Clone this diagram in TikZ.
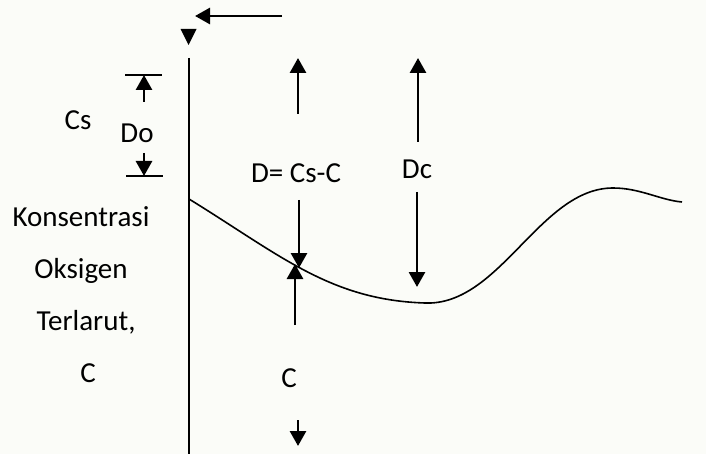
\documentclass[tikz,border=0pt]{standalone}
\usepackage{fontspec}
\setmainfont{Carlito}
\usetikzlibrary{arrows.meta}
\definecolor{bgc}{RGB}{251,252,248}
\tikzset{
  lbl/.style={font=\fontsize{29}{33}\selectfont, anchor=base, inner sep=0pt},
  arr/.style={line width=2.8pt, -{Triangle[length=15pt,width=16pt]}},
  tick/.style={line width=1.6pt},
  axis/.style={line width=1.6pt},
  curve/.style={line width=1.6pt}
}
\begin{document}
\begin{tikzpicture}[x=1pt,y=-1pt]
\fill[bgc] (0,0) rectangle (706,454);
\useasboundingbox (0,0) rectangle (706,454);
% axis
\coordinate (axtop) at (189,58);
\coordinate (axbot) at (189,454);
\draw[axis] (axtop) -- (axbot);
% top arrow and lone triangle
\coordinate (ha1) at (282,16);
\coordinate (ha2) at (195,16);
\draw[arr] (ha1) -- (ha2);
\fill (180.5,29) -- (196.5,29) -- (188.5,45) -- cycle;
% Cs / Do
\coordinate (t1a) at (125,75); \coordinate (t1b) at (162,75);
\coordinate (t2a) at (126,176); \coordinate (t2b) at (163,176);
\draw[tick] (t1a) -- (t1b);
\draw[tick] (t2a) -- (t2b);
\coordinate (do1) at (144,102); \coordinate (do1t) at (144,75);
\coordinate (do2) at (144,153); \coordinate (do2t) at (144,176);
\draw[arr] (do1) -- (do1t);
\draw[arr] (do2) -- (do2t);
\node[lbl] (cs) at (78,130) {Cs};
\node[lbl] (do) at (137,143) {Do};
% left labels
\node[lbl] (k1) at (81,227) {Konsentrasi};
\node[lbl] (k2) at (81,278) {Oksigen};
\node[lbl] (k3) at (86,330) {Terlarut,};
\node[lbl] (k4) at (88,382) {C};
% D = Cs - C
\coordinate (d1) at (298,114); \coordinate (d1t) at (298,58);
\draw[arr] (d1) -- (d1t);
\node[lbl] (dd) at (296,183) {D= Cs-C};
\coordinate (d2) at (299,200); \coordinate (d2t) at (299,268);
\draw[arr] (d2) -- (d2t);
\coordinate (c1) at (295,325); \coordinate (c1t) at (295,264);
\draw[arr] (c1) -- (c1t);
\node[lbl] (cc) at (289,387) {C};
\coordinate (c2) at (298,420); \coordinate (c2t) at (298,446);
\draw[arr] (c2) -- (c2t);
% Dc
\coordinate (dc1) at (418,142); \coordinate (dc1t) at (418,58);
\draw[arr] (dc1) -- (dc1t);
\node[lbl] (dc) at (417,179) {Dc};
\coordinate (dc2) at (417,192); \coordinate (dc2t) at (417,287);
\draw[arr] (dc2) -- (dc2t);
% curve
\draw[curve] (189,199) .. controls (280,255) and (330,300) .. (425,303)
  .. controls (500,306) and (540,188) .. (613,188)
  .. controls (640,188) and (660,200) .. (682,202);
\end{tikzpicture}
\end{document}
